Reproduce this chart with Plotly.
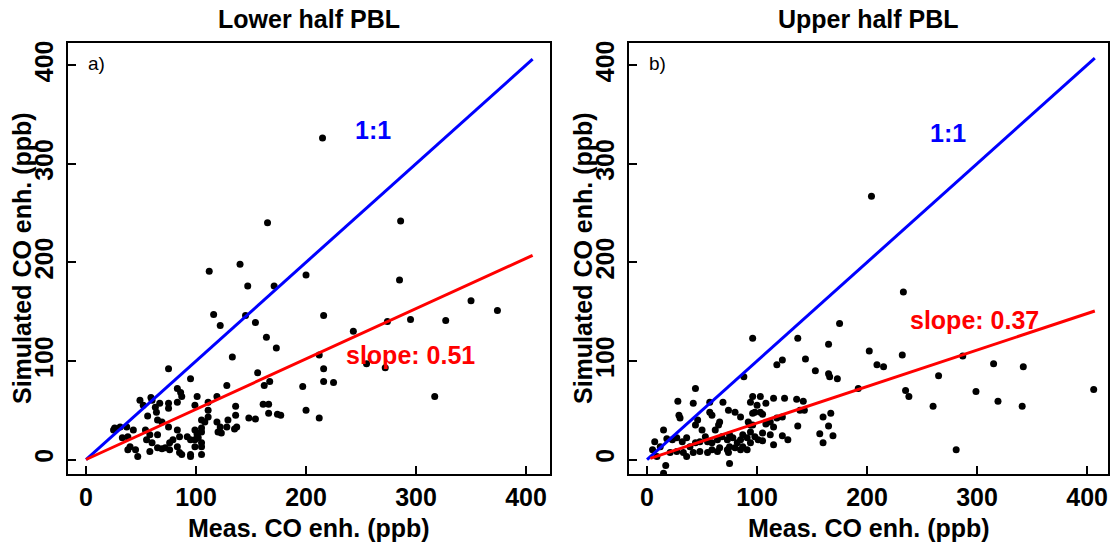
import plotly.graph_objects as go

# ---- data -----------------------------------------------------------------
# Panel a: lower half of the PBL (measured vs simulated CO enhancement, ppb)
meas_a = [215, 165, 286, 140, 112, 200, 171, 147, 285, 116, 122, 145, 154, 216, 164, 173, 133, 243,
          274, 295, 327, 350, 374, 212, 255, 272, 216, 156, 216, 225, 197, 167, 162, 128, 317, 101,
          119, 111, 136, 161, 166, 200, 166, 174, 177, 212, 148, 154, 136, 111, 111, 105, 108, 119,
          122, 129, 128, 135, 137, 105, 101, 99, 105, 105, 120, 123,
          75, 95, 83, 86, 87, 59, 60, 67, 63, 64, 75, 75, 83, 99, 56, 65, 69, 26, 31, 37, 43, 54, 58,
          65, 75, 83, 85, 79, 33, 38, 40, 45, 47, 55, 60, 65, 72, 76, 83, 85, 92, 95, 99, 101, 102,
          99, 105, 95, 87, 105, 49, 52, 25, 38, 58, 69, 76, 95]
sim_a = [326, 240, 242, 198, 191, 187, 176, 176, 182, 147, 136, 146, 139, 146, 124, 113, 104, 130,
         140, 142, 141, 161, 151, 106, 97, 93, 92, 88, 79, 78, 74, 79, 75, 75, 64, 64,
         64, 58, 54, 56, 56, 50, 47, 46, 45, 42, 42, 41, 45, 50, 43, 40, 38, 38,
         33, 40, 33, 31, 33, 28, 25, 20, 17, 5, 28, 27,
         92, 82, 72, 68, 64, 63, 60, 57, 53, 48, 57, 52, 58, 55, 44, 40, 38, 32, 33, 33, 30, 30, 25,
         25, 33, 30, 23, 20, 22, 23, 13, 10, 3, 20, 17, 12, 12, 17, 13, 7, 23, 20, 30, 27, 22,
         13, 13, 5, 5, 32, 60, 55, 30, 10, 8, 11, 10, 3]

# Panel b: upper half of the PBL
meas_b = [204, 233, 175, 165, 202, 232, 209, 215, 165, 166, 173, 287, 315, 342, 265, 192, 235, 238,
          299, 406, 319, 341, 260, 167, 160, 165, 169, 157, 160, 281,
          96, 137, 123, 118, 144, 153,
          96, 103, 115, 125, 136, 142, 100, 108, 96, 103, 105, 139, 143, 118, 123, 112, 115, 137,
          94, 94, 105, 112, 123, 105,
          88, 44, 28, 42, 57, 69, 29, 30, 46, 44, 57, 59, 66, 65, 74, 80, 85, 94, 98, 92, 96, 15,
          7, 18, 23, 27, 32, 36, 39, 44, 48, 53, 55, 59, 64, 68, 73, 75, 78, 82, 85, 87, 91, 94,
          98, 101,
          21, 27, 33, 36, 42, 48, 55, 59, 64, 66, 73, 74, 75, 80, 85, 87, 91, 15, 17, 75, 5, 12, 9,
          50, 62, 108, 115, 128]
sim_b = [267, 170, 138, 117, 110, 106, 96, 94, 87, 84, 82, 105, 97, 94, 85, 72, 70, 64,
         69, 71, 59, 54, 54, 47, 43, 34, 24, 26, 17, 10,
         123, 123, 101, 96, 102, 90,
         64, 64, 62, 62, 61, 59, 55, 57, 47, 48, 46, 50, 50, 42, 43, 38, 33, 34,
         35, 28, 27, 25, 24, 19,
         84, 72, 59, 57, 58, 58, 45, 42, 40, 35, 48, 45, 38, 35, 50, 48, 43, 58, 48, 38, 35, 30,
         18, 21, 20, 22, 18, 22, 13, 17, 18, 23, 18, 17, 20, 23, 20, 25, 22, 17, 20, 25, 22, 17,
         23, 20,
         7, 8, 7, 3, 7, 8, 7, 10, 8, 12, 10, 7, 13, 12, 10, 13, 10, -14, -6, -4, 10, 13, 3,
         30, 30, 36, 15, 20]

# Reference lines: 1:1 and regression slope
line_x_a = [0, 406]
line_x_b = [0, 407]
fit_x_b = [3, 407]
slope_a = 0.51
slope_b = 0.37

titles = ["Lower half PBL", "Upper half PBL"]
panel_tags = ["a)", "b)"]
tick_vals = [0, 100, 200, 300, 400]

# ---- styling ---------------------------------------------------------------
FONT = "Liberation Sans, Arial, Helvetica, sans-serif"
W, H = 1110, 542
frame_a = (68, 550)
frame_b = (629, 1108)
frame_y = (43, 474)
x_range = [-16.4, 421.8]
x_range_b = [-16.4, 419.0]
y_range = [-14.7, 422.4]
TXT = 25

fig = go.Figure()

dot = dict(color="black", size=7, line=dict(width=0))

fig.add_trace(go.Scatter(x=meas_a, y=sim_a, mode="markers", marker=dot,
                         xaxis="x", yaxis="y", showlegend=False))
fig.add_trace(go.Scatter(x=meas_b, y=sim_b, mode="markers", marker=dot,
                         xaxis="x2", yaxis="y2", showlegend=False))

# 1:1 lines
fig.add_trace(go.Scatter(x=line_x_a, y=line_x_a, mode="lines",
                         line=dict(color="#0000FF", width=3),
                         xaxis="x", yaxis="y", showlegend=False))
fig.add_trace(go.Scatter(x=line_x_b, y=line_x_b, mode="lines",
                         line=dict(color="#0000FF", width=3),
                         xaxis="x2", yaxis="y2", showlegend=False))
# regression lines
fig.add_trace(go.Scatter(x=line_x_a, y=[slope_a * v for v in line_x_a], mode="lines",
                         line=dict(color="#FF0000", width=3),
                         xaxis="x", yaxis="y", showlegend=False))
fig.add_trace(go.Scatter(x=fit_x_b, y=[slope_b * v for v in fit_x_b], mode="lines",
                         line=dict(color="#FF0000", width=3),
                         xaxis="x2", yaxis="y2", showlegend=False))


def px_x(p):
    return p / W


def px_y(p):
    return 1 - p / H


axis_common = dict(
    showline=True, linewidth=2, linecolor="black", mirror=True,
    ticks="inside", ticklen=8, tickwidth=2, tickcolor="black",
    showgrid=False, zeroline=False, tickvals=tick_vals,
    tickfont=dict(family=FONT, size=TXT, color="black", weight="bold"),
    automargin=False,
)

fig.update_layout(
    width=W, height=H,
    margin=dict(l=0, r=0, t=0, b=0),
    paper_bgcolor="white", plot_bgcolor="white",
    template="none",
    xaxis=dict(domain=[px_x(frame_a[0]), px_x(frame_a[1])], range=x_range,
               anchor="y", ticklabelstandoff=0, **axis_common),
    yaxis=dict(domain=[px_y(frame_y[1]), px_y(frame_y[0])], range=y_range,
               anchor="x", tickangle=-90, ticklabelstandoff=3, **axis_common),
    xaxis2=dict(domain=[px_x(frame_b[0]), px_x(frame_b[1])], range=x_range_b,
                anchor="y2", ticklabelstandoff=0, **axis_common),
    yaxis2=dict(domain=[px_y(frame_y[1]), px_y(frame_y[0])], range=y_range,
                anchor="x2", tickangle=-90, ticklabelstandoff=3, **axis_common),
)

bold = dict(family=FONT, size=TXT, color="black", weight="bold")
annotations = []
for i, (f0, f1) in enumerate([frame_a, frame_b]):
    cx = px_x((f0 + f1) / 2)
    # panel title
    annotations.append(dict(text=titles[i], x=cx, y=px_y(19), xref="paper", yref="paper",
                            showarrow=False, font=bold, xanchor="center", yanchor="middle"))
    # x axis title
    annotations.append(dict(text="Meas. CO enh. (ppb)", x=cx, y=px_y(528), xref="paper",
                            yref="paper", showarrow=False, font=bold,
                            xanchor="center", yanchor="middle"))
    # y axis title
    annotations.append(dict(text="Simulated CO enh. (ppb)", x=px_x(f0 - 46), y=px_y(258),
                            xref="paper", yref="paper", showarrow=False, font=bold,
                            textangle=-90, xanchor="center", yanchor="middle"))
    xr = "x" if i == 0 else "x2"
    yr = "y" if i == 0 else "y2"
    annotations.append(dict(text=panel_tags[i], x=0, y=402, xref=xr, yref=yr, showarrow=False,
                            font=dict(family=FONT, size=19, color="black"),
                            xanchor="left", yanchor="middle"))
    annotations.append(dict(text="1:1", x=[261, 274][i], y=[334, 331][i], xref=xr, yref=yr,
                            showarrow=False,
                            font=dict(family=FONT, size=TXT, color="#0000FF", weight="bold")))
    annotations.append(dict(text="slope: %.2f" % [slope_a, slope_b][i], x=[295, 298][i],
                            y=[106, 141][i], xref=xr, yref=yr, showarrow=False,
                            font=dict(family=FONT, size=TXT, color="#FF0000", weight="bold")))

fig.update_layout(annotations=annotations)

fig.write_html("out.html")
